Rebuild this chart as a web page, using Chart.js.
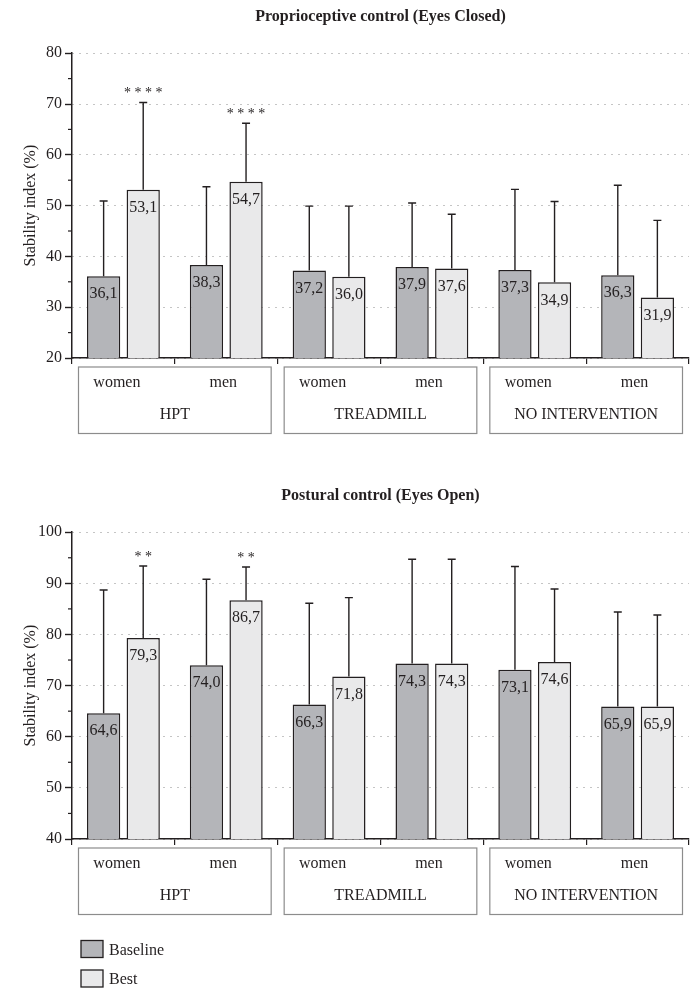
<!DOCTYPE html>
<html>
<head>
<meta charset="utf-8">
<script src="https://cdn.jsdelivr.net/npm/chart.js@4.4.1/dist/chart.umd.min.js"></script>
<style>
  html, body { margin: 0; padding: 0; background: #fff; }
  .wrap { position: absolute; left: 0; width: 700px; }
  #top { top: 0; height: 470px; }
  #bottom { top: 470px; height: 528px; }
</style>
</head>
<body>
<div class="wrap" id="top"><canvas id="chartEC"></canvas></div>
<div class="wrap" id="bottom"><canvas id="chartEO"></canvas></div>
<script>
const categories = ['women', 'men', 'women', 'men', 'women', 'men']
const groups = ['HPT', 'TREADMILL', 'NO INTERVENTION']

// Proprioceptive control (eyes closed)
const ecBaseline = [36.1, 38.3, 37.2, 37.9, 37.3, 36.3]
const ecBest = [53.1, 54.7, 36.0, 37.6, 34.9, 31.9]
const ecBaselineSD = [14.8, 15.4, 12.7, 12.6, 15.9, 17.7]
const ecBestSD = [17.2, 11.5, 13.9, 10.7, 15.9, 15.2]
const ecBestSig = ['****', '****', '', '', '', '']
const ecTicks = [20, 30, 40, 50, 60, 70, 80]

// Postural control (eyes open)
const eoBaseline = [64.6, 74.0, 66.3, 74.3, 73.1, 65.9]
const eoBest = [79.3, 86.7, 71.8, 74.3, 74.6, 65.9]
const eoBaselineSD = [24.1, 16.8, 19.8, 20.4, 20.2, 18.5]
const eoBestSD = [14.1, 6.5, 15.4, 20.4, 14.3, 17.9]
const eoBestSig = ['**', '**', '', '', '', '']
const eoTicks = [40, 50, 60, 70, 80, 90, 100]

const serif = '"Liberation Serif", "Times New Roman", serif'
const ink = '#231f20'

// error bars, value labels, stars, group boxes, minor ticks, legend
const decorations = {
  id: 'decorations',
  afterDatasetsDraw(chart) {
    const ctx = chart.ctx
    const y = chart.scales.y
    ctx.save()
    chart.data.datasets.forEach((ds, di) => {
      chart.getDatasetMeta(di).data.forEach((bar, i) => {
        const top = y.getPixelForValue(ds.data[i] + ds.sd[i])
        ctx.strokeStyle = ink
        ctx.lineWidth = 1.4
        ctx.beginPath()
        ctx.moveTo(bar.x, bar.y)
        ctx.lineTo(bar.x, top)
        ctx.moveTo(bar.x - 4, top)
        ctx.lineTo(bar.x + 4, top)
        ctx.stroke()
        ctx.fillStyle = ink
        ctx.textAlign = 'center'
        ctx.textBaseline = 'middle'
        ctx.font = '16px ' + serif
        ctx.fillText(ds.data[i].toFixed(1).replace('.', ','), bar.x, bar.y + 18)
        if (ds.sig && ds.sig[i]) {
          ctx.font = '14px ' + serif
          ctx.fillText(ds.sig[i].split('').join(' '), bar.x, top - 9)
        }
      })
    })
    ctx.restore()
  },
  afterDraw(chart, args, opts) {
    const {ctx, chartArea} = chart
    const x = chart.scales.x, y = chart.scales.y
    const step = x.getPixelForValue(1) - x.getPixelForValue(0)
    const base = chartArea.bottom
    ctx.save()
    ctx.strokeStyle = ink
    ctx.lineWidth = 1.2
    const tv = y.ticks.map(t => t.value)
    for (let k = 0; k < tv.length - 1; k++) {
      const py = y.getPixelForValue((tv[k] + tv[k + 1]) / 2)
      ctx.beginPath()
      ctx.moveTo(chartArea.left - 4, py)
      ctx.lineTo(chartArea.left, py)
      ctx.stroke()
    }
    const labels = chart.data.labels
    ctx.textAlign = 'center'
    ctx.textBaseline = 'middle'
    groups.forEach((g, gi) => {
      const c0 = x.getPixelForValue(gi * 2), c1 = x.getPixelForValue(gi * 2 + 1)
      const left = c0 - step / 2 + 6.5, right = c1 + step / 2 - 6.5
      ctx.strokeStyle = '#8c8c8c'
      ctx.lineWidth = 1.2
      ctx.strokeRect(left, base + 9, right - left, 66.5)
      ctx.fillStyle = ink
      ctx.font = '16px ' + serif
      ctx.fillText(labels[gi * 2], c0 - 6.5, base + 24.5)
      ctx.fillText(labels[gi * 2 + 1], c1 - 3, base + 24.5)
      ctx.fillText(g, (left + right) / 2, base + 57)
    })
    if (opts.legend) {
      ctx.textAlign = 'left'
      chart.data.datasets.forEach((ds, di) => {
        const ty = base + 101.5 + di * 29.5
        ctx.fillStyle = ds.backgroundColor
        ctx.fillRect(chartArea.left + 9, ty, 22, 17)
        ctx.strokeStyle = ink
        ctx.lineWidth = 1.3
        ctx.strokeRect(chartArea.left + 9, ty, 22, 17)
        ctx.fillStyle = ink
        ctx.font = '16px ' + serif
        ctx.fillText(ds.label, chartArea.left + 37, ty + 10)
      })
    }
    ctx.restore()
  }
}

function makeChart(id, title, baseline, best, baselineSD, bestSD, bestSig, ticks, titlePad, xHeight, legend) {
  const ctx = document.getElementById(id).getContext('2d')
  return new Chart(ctx, {
    type: 'bar',
    data: {
      labels: categories,
      datasets: [
        { label: 'Baseline', data: baseline, sd: baselineSD, backgroundColor: '#b4b5b9',
          borderColor: ink, borderWidth: 1.5, categoryPercentage: 0.77, barPercentage: 0.84 },
        { label: 'Best', data: best, sd: bestSD, sig: bestSig, backgroundColor: '#e9e9ea',
          borderColor: ink, borderWidth: 1.5, categoryPercentage: 0.77, barPercentage: 0.84 }
      ]
    },
    options: {
      responsive: true,
      maintainAspectRatio: false,
      animation: false,
      layout: { padding: { left: 0, right: 11, top: 0, bottom: 0 } },
      plugins: {
        legend: { display: false },
        tooltip: { enabled: false },
        title: { display: true, text: title, fullSize: false, color: ink,
          font: { family: serif, size: 16, weight: 'bold' }, padding: titlePad },
        decorations: { legend: legend }
      },
      scales: {
        x: {
          offset: true,
          ticks: { display: false },
          grid: { offset: true, drawOnChartArea: false, drawTicks: true, tickLength: 6, color: ink, lineWidth: 1.2 },
          border: { color: ink, width: 1.5 },
          afterFit: s => { s.height = xHeight }
        },
        y: {
          min: ticks[0],
          max: ticks[ticks.length - 1],
          afterBuildTicks: s => { s.ticks = ticks.map(v => ({ value: v })) },
          afterFit: s => { s.width = 72 },
          ticks: { font: { family: serif, size: 16 }, color: ink, padding: 3 },
          grid: { color: '#8a8a8a', lineWidth: 1, tickColor: ink, tickLength: 7, tickWidth: 1.4, tickBorderDash: [] },
          border: { color: ink, width: 1.5, dash: [1, 6] },
          title: { display: true, text: 'Stability index (%)', color: ink,
            font: { family: serif, size: 16 }, padding: { top: 21, bottom: 0 } }
        }
      }
    },
    plugins: [decorations]
  })
}

makeChart('chartEC', 'Proprioceptive control (Eyes Closed)', ecBaseline, ecBest, ecBaselineSD, ecBestSD, ecBestSig,
  ecTicks, { top: 7, bottom: 27 }, 112, false)
makeChart('chartEO', 'Postural control (Eyes Open)', eoBaseline, eoBest, eoBaselineSD, eoBestSD, eoBestSig,
  eoTicks, { top: 16, bottom: 27 }, 159, true)
</script>
</body>
</html>
